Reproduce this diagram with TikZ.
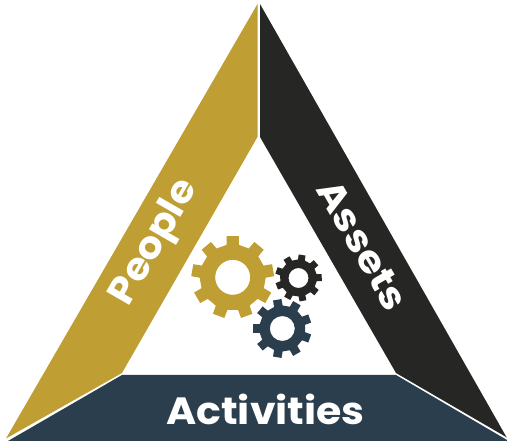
\documentclass[tikz,border=0pt]{standalone}
\usepackage{fontspec}
\setmainfont{Poppins}[BoldFont={Poppins Bold}]
\usetikzlibrary{calc}
\definecolor{goldc}{HTML}{BF9F33}
\definecolor{darkc}{HTML}{262624}
\definecolor{bluec}{HTML}{2B3E4D}
\tikzset{
  band label/.style={text=white,font=\bfseries,inner sep=0pt,anchor=center},
}
% #1 cx, #2 cy, #3 hole, #4 root, #5 tip, #6 teeth, #7 start angle, #8 colour
\newcommand{\cog}[8]{%
  \pgfmathsetmacro{\cogstp}{360/#6}
  \pgfmathsetmacro{\coghw}{\cogstp*0.27}
  \pgfmathsetmacro{\coght}{\cogstp*0.21}
  \pgfmathsetmacro{\cogfirst}{-#7+\coghw}
  \fill[#8,even odd rule]
    ($(#1,#2)+(\cogfirst:#4)$)
    \foreach \cogi [evaluate=\cogi as \coga using -#7-\cogi*\cogstp] in {0,...,\numexpr#6-1\relax}{
      -- ($(#1,#2)+({\coga+\coghw}:#4)$)
      -- ($(#1,#2)+({\coga+\coght}:#5)$)
      -- ($(#1,#2)+({\coga-\coght}:#5)$)
      -- ($(#1,#2)+({\coga-\coghw}:#4)$)
    } -- cycle
    (#1,#2) circle[radius=#3];
}
\begin{document}
\begin{tikzpicture}[x=1pt,y=-1pt]
\useasboundingbox (0,0) rectangle (507,443);
\fill[goldc] (257.5,4) -- (257.5,137) -- (122,373) -- (6,438.5) -- cycle;
\fill[darkc] (260,4) -- (260,137) -- (396,373) -- (507,437.5) -- (507,438) -- cycle;
\fill[bluec] (8,441) -- (122,375) -- (396,375) -- (507,440) -- (507,441) -- cycle;
\cog{232.7}{277.3}{17.5}{33}{41.5}{9}{90}{goldc}
\cog{298.5}{278}{10}{18.5}{23.5}{9}{81}{darkc}
\cog{282.3}{328.5}{12.5}{23}{29.5}{9}{100}{bluec}
\node[band label,rotate=60] (people) at (155.5,243) {\fontsize{38}{38}\selectfont\scalebox{1.05}[1]{People}};
\node[band label,rotate=-60] (assets) at (362.5,245) {\fontsize{37}{37}\selectfont\scalebox{1.13}[1]{Assets}};
\node[band label] (activities) at (265.5,409) {\fontsize{38}{38}\selectfont\scalebox{1.08}[1]{Activities}};
\end{tikzpicture}
\end{document}
